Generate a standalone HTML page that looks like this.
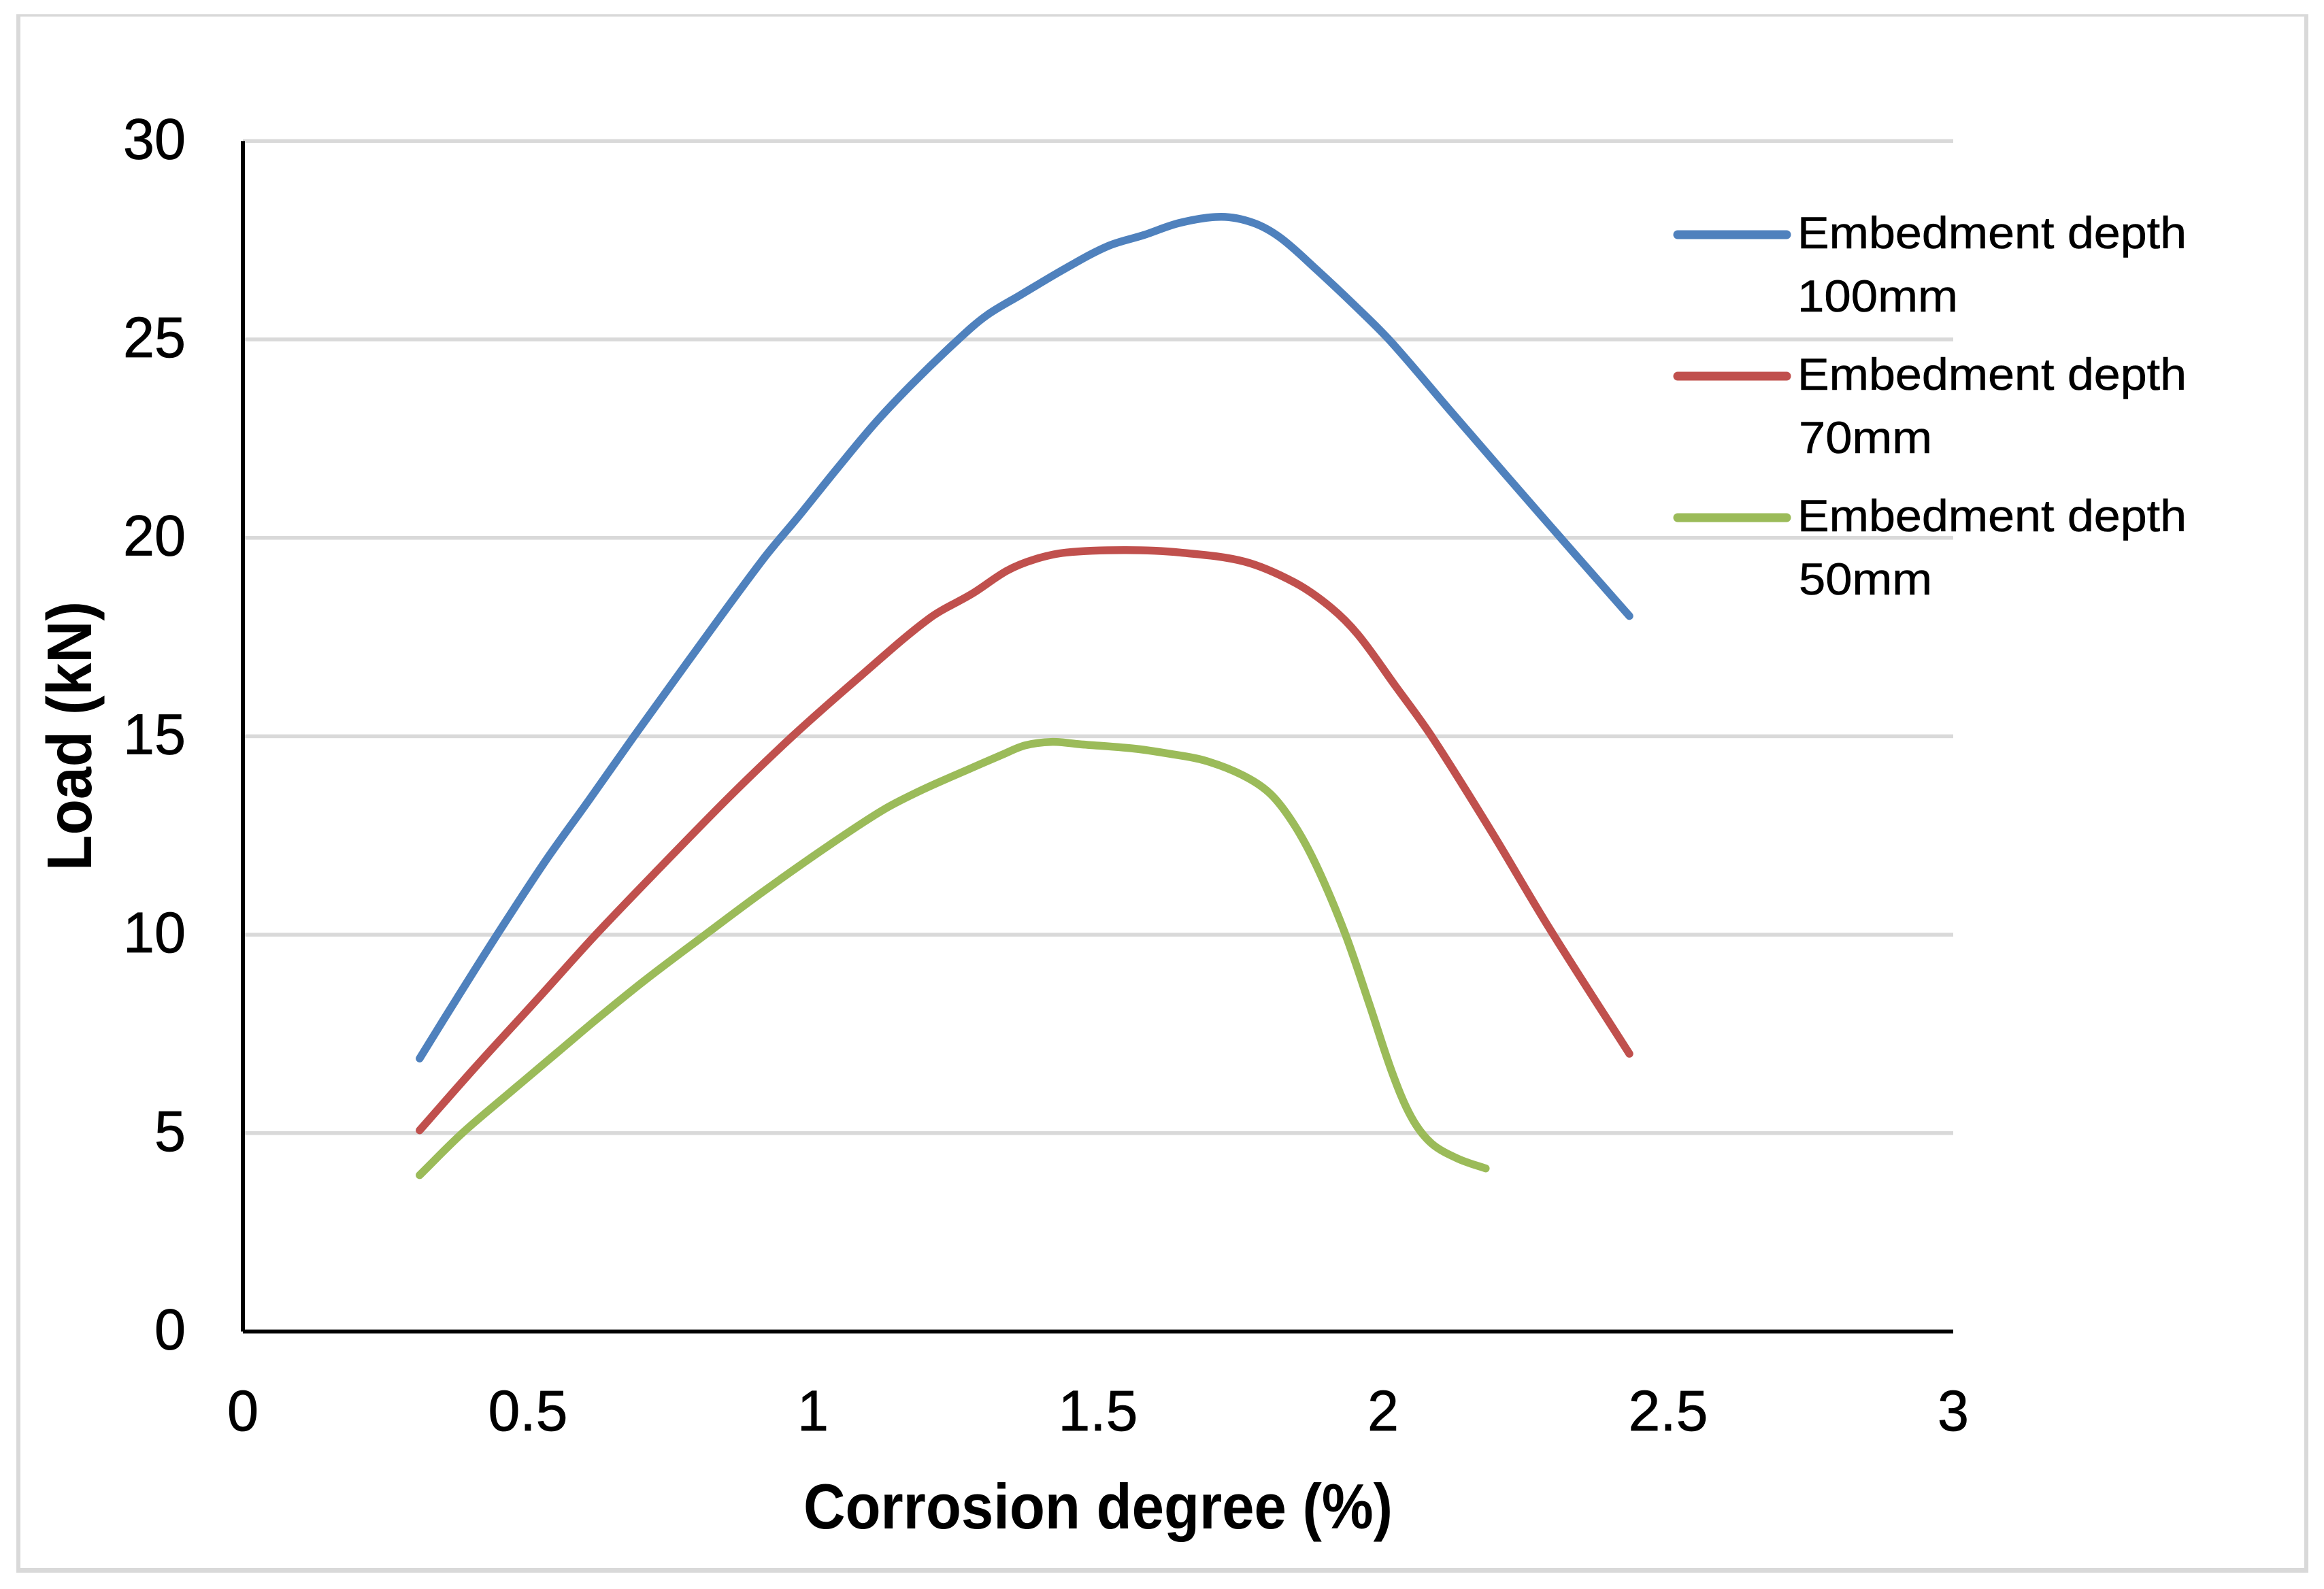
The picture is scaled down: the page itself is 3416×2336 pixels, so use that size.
<!DOCTYPE html>
<html lang="en">
<head>
<meta charset="utf-8">
<title>Load vs corrosion degree</title>
<style>
html,body{margin:0;padding:0;background:#fff;width:3416px;height:2336px;overflow:hidden}
svg{display:block}
text{font-family:"Liberation Sans",sans-serif;fill:#000}
</style>
</head>
<body>
<svg id="chart" xmlns="http://www.w3.org/2000/svg" width="3416" height="2336" viewBox="0 0 3416 2336">
  <rect x="0" y="0" width="3416" height="2336" fill="#fff"/>
  <g fill="#d9d9d9">
    <rect x="24" y="21" width="3369" height="3.5"/>
    <rect x="24" y="21" width="6" height="2291"/>
    <rect x="3387" y="21" width="6" height="2291"/>
    <rect x="24" y="2305" width="3369" height="7"/>
  </g>
  <g id="grid"></g>
  <g id="axes"></g>
  <g id="ylabels"></g>
  <g id="xlabels"></g>
  <g id="series"></g>
  <text x="1181" y="2247" font-size="94" font-weight="700" textLength="866" lengthAdjust="spacingAndGlyphs">Corrosion degree (%)</text>
  <text transform="translate(134 1280) rotate(-90)" x="0" y="0" font-size="93" font-weight="700" textLength="396" lengthAdjust="spacingAndGlyphs">Load (kN)</text>
  <g>
    <g>
      <line x1="2466" y1="345" x2="2626" y2="345" stroke="#4f81bd" stroke-width="13" stroke-linecap="round"/>
      <text x="2642" y="365" font-size="66" stroke="#000" stroke-width="0.6" textLength="572" lengthAdjust="spacingAndGlyphs">Embedment depth</text>
      <text x="2642" y="458" font-size="66" stroke="#000" stroke-width="0.6" textLength="236" lengthAdjust="spacingAndGlyphs">100mm</text>
    </g>
    <g>
      <line x1="2466" y1="553" x2="2626" y2="553" stroke="#c0504d" stroke-width="13" stroke-linecap="round"/>
      <text x="2642" y="573" font-size="66" stroke="#000" stroke-width="0.6" textLength="572" lengthAdjust="spacingAndGlyphs">Embedment depth</text>
      <text x="2644" y="666" font-size="66" stroke="#000" stroke-width="0.6" textLength="196" lengthAdjust="spacingAndGlyphs">70mm</text>
    </g>
    <g>
      <line x1="2466" y1="761" x2="2626" y2="761" stroke="#9bbb59" stroke-width="13" stroke-linecap="round"/>
      <text x="2642" y="781" font-size="66" stroke="#000" stroke-width="0.6" textLength="572" lengthAdjust="spacingAndGlyphs">Embedment depth</text>
      <text x="2644" y="874" font-size="66" stroke="#000" stroke-width="0.6" textLength="196" lengthAdjust="spacingAndGlyphs">50mm</text>
    </g>
  </g>
</svg>
<script>
const xTickLabels = ["0", "0.5", "1", "1.5", "2", "2.5", "3"];
const yTickLabels = ["0", "5", "10", "15", "20", "25", "30"];

const depth100X = [0.310, 0.376, 0.446, 0.529, 0.607, 0.686, 0.784, 0.913, 0.977, 1.042, 1.107, 1.172, 1.255, 1.304, 1.364, 1.444, 1.517, 1.580, 1.644, 1.716, 1.772, 1.820, 1.884, 1.947, 2.012, 2.124, 2.284, 2.432];
const depth100Y = [6.88, 8.41, 10.00, 11.82, 13.39, 15.00, 16.95, 19.47, 20.58, 21.74, 22.86, 23.85, 25.00, 25.60, 26.12, 26.80, 27.35, 27.63, 27.94, 28.09, 27.94, 27.56, 26.75, 25.90, 24.97, 23.10, 20.45, 18.03];

const depth70X = [0.310, 0.407, 0.517, 0.619, 0.729, 0.851, 0.964, 1.082, 1.204, 1.280, 1.340, 1.389, 1.444, 1.549, 1.644, 1.757, 1.844, 1.908, 1.956, 2.020, 2.085, 2.190, 2.290, 2.432];
const depth70Y = [5.07, 6.65, 8.38, 10.00, 11.65, 13.44, 15.00, 16.50, 17.97, 18.60, 19.17, 19.46, 19.63, 19.69, 19.63, 19.40, 18.88, 18.25, 17.56, 16.30, 15.00, 12.60, 10.20, 7.00];

const depth50X = [0.310, 0.385, 0.468, 0.553, 0.619, 0.705, 0.811, 0.912, 1.033, 1.125, 1.193, 1.270, 1.331, 1.372, 1.420, 1.468, 1.563, 1.625, 1.687, 1.755, 1.803, 1.845, 1.885, 1.933, 1.975, 2.016, 2.050, 2.085, 2.132, 2.180];
const depth50Y = [3.94, 5.00, 6.02, 7.05, 7.85, 8.85, 10.00, 11.08, 12.30, 13.16, 13.66, 14.15, 14.53, 14.77, 14.86, 14.80, 14.69, 14.56, 14.39, 14.01, 13.54, 12.75, 11.68, 10.04, 8.29, 6.52, 5.39, 4.74, 4.35, 4.11];

const NS = 'http://www.w3.org/2000/svg';
const plotLeft = 357, plotRight = 2871, plotTop = 207.3, plotBottom = 1957.5;
const xMax = 3, yMax = 30;
function xScale(v) { return plotLeft + (v / xMax) * (plotRight - plotLeft); }
function yScale(v) { return plotBottom - (v / yMax) * (plotBottom - plotTop); }
function labelWidth(s) {
  let w = 0;
  for (const c of s) w += (c === '.') ? 25 : 46;
  return w;
}
function dist(a, b) { return Math.hypot(a[0] - b[0], a[1] - b[1]) || 1; }
function smoothPath(xs, ys) {
  const p = xs.map((x, i) => [xScale(x), yScale(ys[i])]);
  let d = 'M' + p[0][0].toFixed(1) + ' ' + p[0][1].toFixed(1);
  for (let i = 0; i < p.length - 1; i++) {
    const a = p[Math.max(0, i - 1)], b = p[i], c = p[i + 1], e = p[Math.min(p.length - 1, i + 2)];
    const d1 = dist(a, b), d2 = dist(b, c), d3 = dist(c, e);
    const k1 = d2 / (d1 + d2) / 3, k2 = d2 / (d2 + d3) / 3;
    const c1x = b[0] + (c[0] - a[0]) * k1, c1y = b[1] + (c[1] - a[1]) * k1;
    const c2x = c[0] - (e[0] - b[0]) * k2, c2y = c[1] - (e[1] - b[1]) * k2;
    d += 'C' + c1x.toFixed(1) + ' ' + c1y.toFixed(1) + ' ' + c2x.toFixed(1) + ' ' + c2y.toFixed(1) + ' ' + c[0].toFixed(1) + ' ' + c[1].toFixed(1);
  }
  return d;
}

const gridGroup = document.getElementById('grid');
const yLabelGroup = document.getElementById('ylabels');
yTickLabels.forEach(function (label) {
  const value = parseFloat(label);
  const py = yScale(value);
  if (value > 0) {
    const line = document.createElementNS(NS, 'rect');
    
    
    line.setAttribute('x', plotLeft);
    line.setAttribute('y', py - 2.8);
    line.setAttribute('width', plotRight - plotLeft);
    line.setAttribute('height', 5.6);
    line.setAttribute('fill', '#d9d9d9');
    gridGroup.appendChild(line);
  }
  const t = document.createElementNS(NS, 'text');
  
  
  t.setAttribute('x', 273);
  t.setAttribute('y', py + 26);
  t.setAttribute('font-size', 84);
  t.setAttribute('stroke', '#000');
  t.setAttribute('stroke-width', 0.8);
  t.setAttribute('text-anchor', 'end');
  t.setAttribute('textLength', labelWidth(label));
  t.setAttribute('lengthAdjust', 'spacingAndGlyphs');
  t.textContent = label;
  yLabelGroup.appendChild(t);
});

const xLabelGroup = document.getElementById('xlabels');
xTickLabels.forEach(function (label) {
  const t = document.createElementNS(NS, 'text');
  
  
  t.setAttribute('x', xScale(parseFloat(label)));
  t.setAttribute('y', 2103);
  t.setAttribute('font-size', 84);
  t.setAttribute('stroke', '#000');
  t.setAttribute('stroke-width', 0.8);
  t.setAttribute('text-anchor', 'middle');
  t.setAttribute('textLength', labelWidth(label));
  t.setAttribute('lengthAdjust', 'spacingAndGlyphs');
  t.textContent = label;
  xLabelGroup.appendChild(t);
});

const axesGroup = document.getElementById('axes');
const yAxisLine = document.createElementNS(NS, 'rect');


yAxisLine.setAttribute('x', plotLeft - 3);
yAxisLine.setAttribute('y', plotTop);
yAxisLine.setAttribute('width', 6);
yAxisLine.setAttribute('height', plotBottom - plotTop);
yAxisLine.setAttribute('fill', '#000');
axesGroup.appendChild(yAxisLine);
const xAxisLine = document.createElementNS(NS, 'rect');


xAxisLine.setAttribute('x', plotLeft);
xAxisLine.setAttribute('y', plotBottom - 2.9);
xAxisLine.setAttribute('width', plotRight - plotLeft);
xAxisLine.setAttribute('height', 5.8);
xAxisLine.setAttribute('fill', '#000');
axesGroup.appendChild(xAxisLine);

const seriesGroup = document.getElementById('series');
const line100 = document.createElementNS(NS, 'path');


line100.setAttribute('d', smoothPath(depth100X, depth100Y));
line100.setAttribute('stroke', '#4f81bd');
const line70 = document.createElementNS(NS, 'path');


line70.setAttribute('d', smoothPath(depth70X, depth70Y));
line70.setAttribute('stroke', '#c0504d');
const line50 = document.createElementNS(NS, 'path');


line50.setAttribute('d', smoothPath(depth50X, depth50Y));
line50.setAttribute('stroke', '#9bbb59');
[line100, line70, line50].forEach(function (path) {
  path.setAttribute('fill', 'none');
  path.setAttribute('stroke-width', 11.5);
  path.setAttribute('stroke-linecap', 'round');
  path.setAttribute('stroke-linejoin', 'round');
  seriesGroup.appendChild(path);
});
</script>
</body>
</html>
